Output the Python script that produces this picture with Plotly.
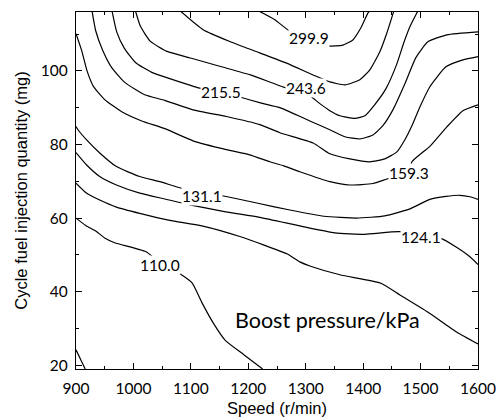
import plotly.graph_objects as go

# Contour levels (kPa) and their traced paths: speed (r/min) vs fuel quantity (mg)
c103_speed = [900, 916]
c103_qty = [24.2, 19.0]

c110_speed = [900, 916.9, 936.1, 950, 967.4, 1021.4, 1045.8, 1078.9, 1102.1, 1119, 1139.4, 1159.9, 1192.2, 1225]
c110_qty = [60, 58, 56.3, 54.6, 53.3, 50.9, 47.9, 45.1, 42.4, 37.1, 31.4, 26.8, 22.9, 19.0]

c117_speed = [900, 918.1, 941.3, 970.4, 1011, 1063.3, 1119, 1185.2, 1267.1, 1289.7, 1307.2, 1359.5, 1431, 1464, 1516.2, 1563.3, 1600]
c117_qty = [69.5, 66.8, 64.9, 63, 61.3, 59.4, 57.9, 55, 50.3, 48.1, 47, 44.6, 42.3, 39.1, 34.1, 29, 25.8]

c124_speed = [900, 918.1, 941.3, 970.4, 1011, 1054.5, 1098.1, 1160.8, 1220, 1295, 1350.7, 1403, 1464, 1501.4, 1535.4, 1563.3, 1585.9, 1600]
c124_qty = [77.8, 74.5, 71.3, 69, 66.8, 65.2, 63.6, 61.7, 60.2, 57.7, 56, 55.6, 56.3, 54.9, 54.5, 52, 49.5, 47.4]

c131_speed = [900, 903.5, 918.1, 941.3, 970.4, 1011, 1045.8, 1083.6, 1119.9, 1157.3, 1214.8, 1272.3, 1331.6, 1389, 1437.8, 1481.4, 1516.2, 1544.1, 1568.5, 1585.9, 1600]
c131_qty = [84.9, 84, 81.3, 77.7, 74, 71.3, 69.9, 68.1, 67.0, 66, 64.1, 62.2, 60.5, 60, 60.6, 62.5, 65.1, 65.9, 66.2, 65.8, 65.1]

c159_speed = [900, 909.9, 919.2, 930.3, 950, 979.6, 1014.5, 1054.5, 1103.8, 1162, 1202.6, 1237.5, 1261.9, 1289.7, 1342, 1376.9, 1417, 1443, 1479.6, 1484.9, 1516.2, 1545.8, 1573.7, 1600]
c159_qty = [110.1, 105.5, 100, 95.8, 92.2, 88.9, 86.4, 84.3, 81, 78.6, 77.2, 75.3, 74.2, 72.6, 69.9, 69, 69.4, 70.7, 72.2, 75.3, 79.5, 84.8, 89.2, 90.8]

c187_speed = [927.9, 934.3, 946.2, 962.2, 985.4, 1019.7, 1054.5, 1103.8, 1162, 1220, 1254.9, 1312.9, 1342, 1376.9, 1411.7, 1437.8, 1458.7, 1472.7, 1484.9, 1498.8, 1516.2, 1544.1, 1573.7, 1600]
c187_qty = [116.3, 110.9, 105.7, 100.9, 96.8, 93.5, 92, 89.4, 87.6, 85.4, 83.2, 80.4, 77.5, 76.1, 75.3, 76.1, 78, 81.3, 85.1, 90.2, 95.7, 101.1, 103, 103.9]

c215_speed = [962.7, 970.9, 984, 1004, 1031.9, 1063.3, 1115.5, 1152.1, 1185.2, 1221.3, 1254.9, 1307.2, 1342, 1368.2, 1394.3, 1417, 1434.3, 1451.8, 1472.7, 1491.8, 1512.7, 1545.8, 1600]
c215_qty = [116.3, 110.6, 106.2, 102.2, 99.6, 97.9, 95.3, 94.3, 92.9, 91.3, 90, 86.4, 84, 82.1, 81.5, 82.6, 85.1, 89.4, 96.5, 103.6, 107.9, 109.8, 110.6]

c243_speed = [1003.5, 1012.2, 1029.6, 1058.5, 1099.3, 1151.6, 1203.8, 1266.6, 1300.2, 1324.6, 1342, 1359.5, 1385.6, 1403, 1418.6, 1439.5, 1458.7, 1470.9, 1481.4, 1495.3]
c243_qty = [116.3, 112.1, 108, 105.3, 103.5, 101.2, 98.9, 95.3, 94.1, 91.1, 89.2, 87.8, 87.1, 87.8, 90.5, 95.1, 101.9, 107.7, 112, 116.3]

c271_speed = [1081.5, 1121.3, 1167.8, 1220, 1266.6, 1312.9, 1342, 1368.2, 1394.3, 1411.7, 1429.1, 1441.3, 1453.5]
c271_qty = [116.3, 111.2, 108, 104.9, 102.1, 98.9, 97, 96.2, 97.6, 100.3, 105.2, 110.3, 116.3]

c299_speed = [1218, 1246.2, 1272.3, 1305.4, 1339, 1364.7, 1382.1, 1396.1, 1408.2, 1411.7]
c299_qty = [116.3, 113.9, 110.8, 109.1, 106.8, 107.0, 108.4, 111.7, 115.7, 116.3]

# Contour labels
label_texts = ["299.9", "243.6", "215.5", "159.3", "131.1", "124.1", "110.0"]
label_speed = [1305.4, 1300.2, 1152.1, 1479.6, 1119.9, 1501.4, 1045.8]
label_qty = [109.0, 95.3, 94.3, 72.2, 65.9, 54.9, 47.3]

x_ticks = [900, 1000, 1100, 1200, 1300, 1400, 1500, 1600]
y_ticks = [20, 40, 60, 80, 100]

contours = [
    (c103_speed, c103_qty), (c110_speed, c110_qty), (c117_speed, c117_qty),
    (c124_speed, c124_qty), (c131_speed, c131_qty), (c159_speed, c159_qty),
    (c187_speed, c187_qty), (c215_speed, c215_qty), (c243_speed, c243_qty),
    (c271_speed, c271_qty), (c299_speed, c299_qty),
]

fig = go.Figure()
for xs, ys in contours:
    fig.add_trace(go.Scatter(
        x=xs, y=ys, mode="lines",
        line=dict(color="black", width=1.2, shape="spline", smoothing=0.5),
        showlegend=False, hoverinfo="skip",
    ))

num_font = dict(family="Lato, Open Sans, sans-serif", size=15.5, color="black")
for t, xv, yv in zip(label_texts, label_speed, label_qty):
    fig.add_annotation(x=xv, y=yv, text=t, showarrow=False, font=num_font,
                       bgcolor="white", borderpad=0)

fig.add_annotation(x=1338.5, y=32.3, text="Boost pressure/kPa", showarrow=False,
                   font=dict(family="Lato, Open Sans, sans-serif", size=21.5, color="black"))

axis_common = dict(
    showline=True, linecolor="black", linewidth=1.3, mirror="ticks",
    ticks="inside", ticklen=6, tickwidth=1.2, tickcolor="black",
    showgrid=False, zeroline=False, automargin=False,
    tickfont=dict(family="Lato, Open Sans, sans-serif", size=15.5, color="black"),
)

fig.update_xaxes(
    range=[900, 1600], tickvals=x_ticks,
    minor=dict(dtick=50, ticks="inside", ticklen=3, tickcolor="black", tickwidth=1.2, showgrid=False),
    title=dict(text="Speed (r/min)", font=dict(family="Liberation Sans, Arial", size=16.5, color="black"), standoff=8),
    ticklabelstandoff=5,
    **axis_common,
)
fig.update_yaxes(
    range=[19, 116], tickvals=y_ticks,
    minor=dict(dtick=10, tick0=0, ticks="inside", ticklen=3, tickcolor="black", tickwidth=1.2, showgrid=False),
    title=dict(text="Cycle fuel injection quantity (mg)", font=dict(family="Liberation Sans, Arial", size=16.5, color="black"), standoff=8),
    ticklabelstandoff=4,
    **axis_common,
)

fig.update_layout(
    width=503, height=417,
    margin=dict(l=76, r=25, t=12, b=48),
    paper_bgcolor="white", plot_bgcolor="white",
)

fig.write_html("out.html")
